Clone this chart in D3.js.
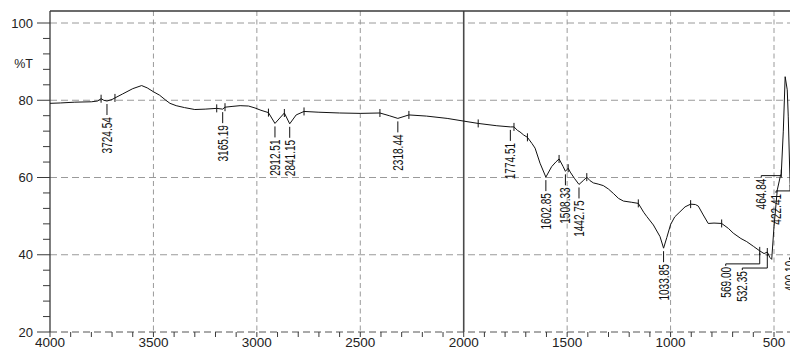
<!DOCTYPE html>
<html>
<head>
<meta charset="utf-8">
<script src="https://cdn.jsdelivr.net/npm/d3@7"></script>
<style>
  body { margin: 0; background: #fff; }
  svg { display: block; }
</style>
</head>
<body>
<svg id="chart" width="790" height="350"></svg>
<script>
// FTIR spectrum: wavenumber (cm-1) against transmittance (%T)
const wavenumbers = [
  4000, 3950, 3880, 3800, 3770, 3753, 3740, 3724.54, 3700, 3686,
  3650, 3600, 3557, 3530, 3500, 3470, 3440, 3420, 3390, 3350,
  3300, 3250, 3194, 3165.19, 3154, 3120, 3081, 3040, 3009, 2980,
  2944, 2912.51, 2867, 2841.15, 2810, 2772, 2700, 2600, 2500, 2405,
  2360, 2318.44, 2265, 2180, 2080, 2000, 1930, 1840, 1774.51, 1757,
  1740, 1728, 1710, 1692, 1670, 1655, 1631, 1602.85, 1575, 1555,
  1539, 1520, 1508.33, 1495, 1485, 1465, 1442.75, 1420, 1405, 1390,
  1373, 1350, 1325, 1300, 1275, 1252, 1228, 1190, 1156, 1130,
  1115, 1083, 1051, 1033.85, 1018, 1000, 980, 955, 930, 903,
  880, 866, 842, 818, 790, 753, 720, 697, 660, 632,
  600, 569, 548, 532.35, 520, 511, 500, 484, 470, 464.84,
  455, 446, 436, 431, 422.41, 410, 400
];
const transmittance = [
  79.2, 79.3, 79.5, 79.6, 79.8, 80.4, 80.0, 79.8, 80.2, 80.6,
  81.6, 83.0, 83.8, 83.2, 82.2, 81.3, 80.0, 79.2, 78.6, 78.1,
  77.6, 77.7, 77.9, 77.7, 78.2, 78.4, 78.6, 78.5, 78.0, 77.4,
  76.8, 74.0, 76.7, 73.9, 76.2, 77.1, 76.9, 76.7, 76.6, 76.7,
  76.0, 75.3, 76.2, 75.9, 75.3, 74.6, 74.0, 73.4, 73.1, 73.1,
  72.2, 71.8, 71.0, 70.4, 68.8, 67.6, 63.7, 60.1, 62.8, 64.0,
  64.8, 62.9, 61.6, 62.4, 61.4, 59.8, 58.2, 59.3, 60.1, 59.2,
  58.6, 58.3, 57.9, 57.0, 55.8, 54.6, 53.9, 53.6, 53.3, 51.0,
  49.9, 47.7, 44.7, 41.7, 44.5, 47.8, 49.8, 51.1, 52.4, 53.1,
  53.0, 52.6, 50.3, 48.1, 48.2, 48.1, 46.8, 45.6, 44.2, 43.4,
  42.2, 41.0, 40.3, 40.7, 39.3, 38.8, 47.3, 56.8, 60.2, 61.0,
  72.0, 86.1, 82.7, 75.7, 58.6, 52.0, 48.0
];

// Picked peaks
const peakWavenumbers = [3724.54, 3165.19, 2912.51, 2841.15, 2318.44, 1774.51, 1602.85,
  1508.33, 1442.75, 1033.85, 569.00, 532.35, 464.84, 422.41, 400.10];
const peakLabels = ["3724.54", "3165.19", "2912.51", "2841.15", "2318.44", "1774.51", "1602.85",
  "1508.33", "1442.75", "1033.85", "569.00", "532.35", "464.84", "422.41", "400.10"];

// Baseline pick marks along the trace
const markWavenumbers = [3753, 3686, 3194, 3154, 2944, 2867, 2772, 2405, 2265, 1930,
  1757, 1692, 1539, 1495, 1405, 1156, 903, 753, 569, 532.35, 464.84];

const xTicks = [4000, 3500, 3000, 2500, 2000, 1500, 1000, 500];
const yTicks = [20, 40, 60, 80, 100];
const yLabel = "%T";

(function draw() {
  const svg = d3.select("#chart");
  const W = 790;
  const plotTop = 11;
  const sans = "'Liberation Sans', Arial, sans-serif";

  const x = d3.scaleLinear().domain([4000, 500]).range([50, 774]);
  const y = d3.scaleLinear().domain([20, 100]).range([332, 23]);
  const plotBottom = y(20);
  const plotLeft = x(4000);

  const spectrum = wavenumbers.map((w, i) => ({ w, t: transmittance[i] }));
  const asc = spectrum.slice().sort((a, b) => a.w - b.w);
  function tAt(w) {
    const i = d3.bisector(d => d.w).left(asc, w);
    if (i <= 0) return asc[0].t;
    if (i >= asc.length) return asc[asc.length - 1].t;
    const a = asc[i - 1], b = asc[i];
    return a.t + (b.t - a.t) * (w - a.w) / (b.w - a.w);
  }

  const gridColor = "#9a9a9a";
  const axisColor = "#3a3a3a";

  // horizontal grid
  svg.append("g").selectAll("line")
    .data(yTicks.filter(v => v !== 20))
    .join("line")
    .attr("x1", plotLeft).attr("x2", W)
    .attr("y1", d => y(d)).attr("y2", d => y(d))
    .attr("stroke", gridColor).attr("stroke-width", 1)
    .attr("stroke-dasharray", "7,4");

  // bottom baseline (dashed)
  svg.append("line")
    .attr("x1", plotLeft).attr("x2", W)
    .attr("y1", plotBottom).attr("y2", plotBottom)
    .attr("stroke", "#555").attr("stroke-width", 1)
    .attr("stroke-dasharray", "7,4");

  // vertical grid
  svg.append("g").selectAll("line")
    .data(xTicks.filter(v => v !== 4000 && v !== 2000))
    .join("line")
    .attr("x1", d => x(d)).attr("x2", d => x(d))
    .attr("y1", plotTop).attr("y2", plotBottom)
    .attr("stroke", gridColor).attr("stroke-width", 1)
    .attr("stroke-dasharray", "5,3.5");

  // 2000 cm-1 divider
  svg.append("line")
    .attr("x1", x(2000)).attr("x2", x(2000))
    .attr("y1", plotTop).attr("y2", plotBottom)
    .attr("stroke", "#4a4a4a").attr("stroke-width", 1.6);

  // frame: left and top
  svg.append("line").attr("x1", plotLeft).attr("x2", plotLeft).attr("y1", plotTop).attr("y2", plotBottom)
    .attr("stroke", axisColor).attr("stroke-width", 1.3);
  svg.append("line").attr("x1", plotLeft).attr("x2", W).attr("y1", plotTop).attr("y2", plotTop)
    .attr("stroke", axisColor).attr("stroke-width", 1.3);

  // y ticks
  const yMinor = d3.range(20, 100.1, 4);
  svg.append("g").selectAll("line")
    .data(yMinor)
    .join("line")
    .attr("x1", d => yTicks.includes(d) ? plotLeft - 13 : plotLeft - 7).attr("x2", plotLeft)
    .attr("y1", d => y(d)).attr("y2", d => y(d))
    .attr("stroke", axisColor).attr("stroke-width", 1);

  svg.append("g").selectAll("text")
    .data(yTicks)
    .join("text")
    .attr("x", 33).attr("y", d => y(d))
    .attr("dy", "0.36em")
    .attr("text-anchor", "end")
    .attr("font-family", sans)
    .attr("font-size", 13)
    .attr("fill", "#222")
    .text(d => d);

  svg.append("text")
    .attr("x", 33).attr("y", y(89.6))
    .attr("dy", "0.36em")
    .attr("text-anchor", "end")
    .attr("font-family", sans)
    .attr("font-size", 12.5)
    .attr("fill", "#222")
    .text(yLabel);

  // x ticks (every 100 cm-1)
  const xMinor = d3.range(4000, 399, -100);
  svg.append("g").selectAll("line")
    .data(xMinor)
    .join("line")
    .attr("x1", d => x(d)).attr("x2", d => x(d))
    .attr("y1", plotBottom).attr("y2", plotBottom + 5)
    .attr("stroke", axisColor).attr("stroke-width", 1);

  svg.append("g").selectAll("text")
    .data(xTicks)
    .join("text")
    .attr("x", d => x(d)).attr("y", 347)
    .attr("text-anchor", "middle")
    .attr("font-family", sans)
    .attr("font-size", 13.5)
    .attr("fill", "#222")
    .text(d => d);

  // spectrum trace
  const line = d3.line().x(d => x(d.w)).y(d => y(d.t));
  svg.append("path")
    .datum(spectrum)
    .attr("d", line)
    .attr("fill", "none")
    .attr("stroke", "#111")
    .attr("stroke-width", 1)
    .attr("stroke-linejoin", "round");

  // pick marks
  svg.append("g").selectAll("line")
    .data(markWavenumbers)
    .join("line")
    .attr("x1", d => x(d)).attr("x2", d => x(d))
    .attr("y1", d => y(tAt(d)) - 4).attr("y2", d => y(tAt(d)) + 4)
    .attr("stroke", "#111").attr("stroke-width", 1);

  // peak labels with leaders; crowded labels at the low end are moved aside with an elbow
  const elbows = {
    "569.00": { dx: -34, drop: 13 },
    "532.35": { dx: -25, drop: 16 },
    "464.84": { dx: -20, drop: 2 },
    "422.41": { dx: -14, drop: 8 },
    "400.10": { dx: -5, drop: 34 }
  };
  const peaks = peakWavenumbers.map((w, i) => ({ w, label: peakLabels[i] }));
  const pg = svg.append("g");
  peaks.forEach(p => {
    const px = x(p.w);
    const py = y(tAt(p.w));
    const e = elbows[p.label];
    let tx, ty;
    if (e) {
      const ey = py + e.drop;
      tx = px + e.dx;
      ty = ey + 3;
      pg.append("polyline")
        .attr("points", [[px, py + 2], [px, ey], [tx, ey], [tx, ty - 1]].map(q => q.join(",")).join(" "))
        .attr("fill", "none").attr("stroke", "#111").attr("stroke-width", 1);
    } else {
      tx = px;
      ty = py + 16;
      pg.append("line")
        .attr("x1", px).attr("x2", px)
        .attr("y1", py + 3).attr("y2", py + 14)
        .attr("stroke", "#111").attr("stroke-width", 1);
    }
    // condensed lettering: squeeze along the reading direction
    pg.append("text")
      .attr("transform", `translate(${tx},${ty}) rotate(-90) scale(0.72,1)`)
      .attr("dy", "0.36em")
      .attr("text-anchor", "end")
      .attr("font-family", sans)
      .attr("font-size", 14)
      .attr("fill", "#111")
      .text(p.label);
  });
})();
</script>
</body>
</html>
